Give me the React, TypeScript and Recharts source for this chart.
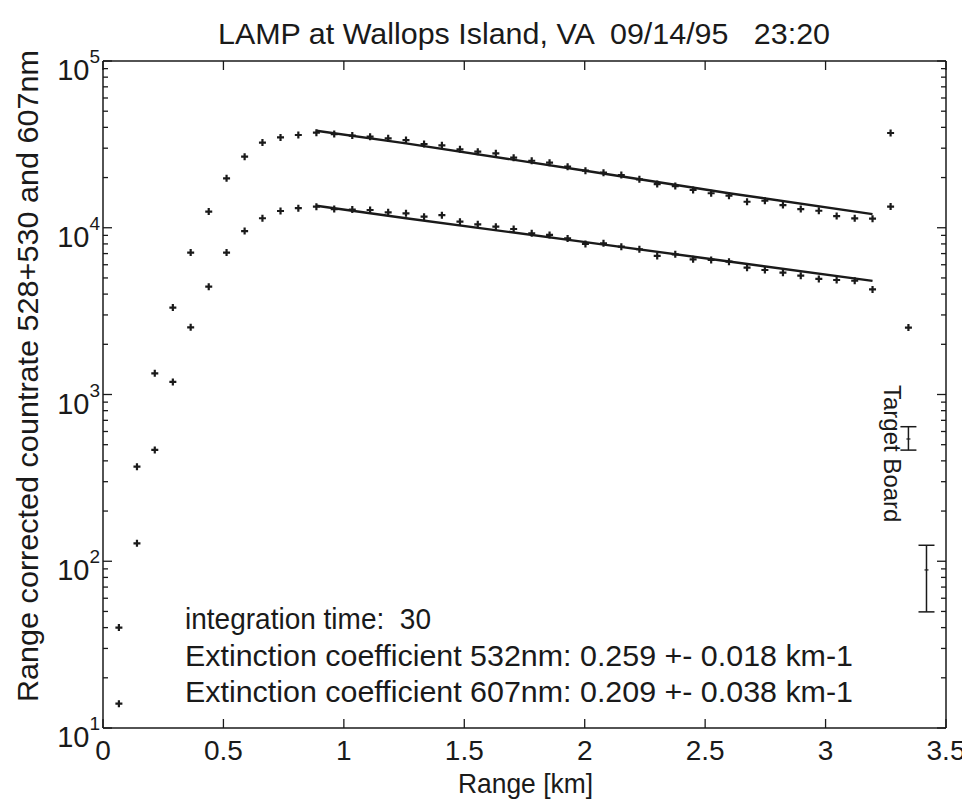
import React from 'react';
import { ComposedChart, Scatter, Line, XAxis, YAxis, ErrorBar } from 'recharts';

// range bins [km]
const rangeKm = [
  0.066, 0.141, 0.215, 0.29, 0.364, 0.439, 0.513, 0.588, 0.662, 0.737, 0.811, 0.886,
  0.96, 1.035, 1.109, 1.184, 1.258, 1.333, 1.407, 1.482, 1.556, 1.631, 1.705, 1.78,
  1.854, 1.929, 2.003, 2.078, 2.152, 2.227, 2.301, 2.376, 2.45, 2.525, 2.599, 2.674,
  2.748, 2.823, 2.897, 2.972, 3.046, 3.121, 3.195, 3.27, 3.344,
];

// 528+530 nm countrate
const counts528 = [
  40, 369, 1340, 3320, 7100, 12500, 19800, 26700, 32400, 34800, 36000, 37150,
  36480, 35730, 35160, 34380, 33580, 31780, 31200, 29520, 28580, 27930, 26300, 25230,
  24550, 23230, 21980, 21380, 20700, 19530, 18290, 17790, 16840, 16100, 15570, 14320,
  14520, 13680, 12940, 12650, 11750, 11390, 11330, 37000, 2520,
];

// 607 nm countrate
const counts607 = [
  14, 128, 465, 1190, 2530, 4430, 7100, 9550, 11400, 12600, 13100, 13370,
  12950, 12860, 12780, 12380, 12210, 11650, 11900, 10870, 10490, 10150, 9830, 9270,
  9060, 8630, 8000, 8070, 7700, 7430, 6780, 6930, 6470, 6410, 6260, 5760,
  5580, 5380, 5160, 4930, 4860, 4810, 4270, 13400,
];

// extinction fits
const fitRange = [0.886, 1.258, 2.003, 2.599, 3.195];
const fit528 = [38200, 32080, 21980, 16100, 12080];
const fit607 = [13560, 11400, 8200, 6280, 4800];

// target board returns with error bars
const boardRange = [3.344, 3.419];
const boardCounts = [541, 88.7];
const boardErrLow = [77, 39];
const boardErrHigh = [100, 36];

const xTicks = [0, 0.5, 1, 1.5, 2, 2.5, 3, 3.5];
const decades = [10, 100, 1000, 10000];
const minorSteps = [1, 2, 3, 4, 5, 6, 7, 8, 9];
const yTicks = decades.flatMap((d) => minorSteps.map((m) => m * d)).concat(100000);

const ink = '#1a1a1a';
const font = '"Liberation Sans", Arial, sans-serif';

const pts528 = counts528.map((v, i) => ({ range: rangeKm[i], count: v }));
const pts607 = counts607.map((v, i) => ({ range: rangeKm[i], count: v }));
const fitPts528 = fit528.map((v, i) => ({ range: fitRange[i], count: v }));
const fitPts607 = fit607.map((v, i) => ({ range: fitRange[i], count: v }));
const boardPts = boardCounts.map((v, i) => ({
  range: boardRange[i],
  count: v,
  err: [boardErrLow[i], boardErrHigh[i]],
}));

const isMajor = (v: number) => {
  const e = Math.round(Math.log10(v));
  return Math.abs(Math.pow(10, e) - v) < 1e-6;
};

const LeftTick = (props: any) => {
  const { x, y, payload } = props;
  const v = payload.value;
  const major = isMajor(v);
  return (
    <g>
      <line x1={x} y1={y} x2={x + (major ? 9 : 5)} y2={y} stroke={ink} strokeWidth={1.3} />
      {major && (
        <text x={x - 3} y={y + 19} textAnchor="end" fontSize={29} fontFamily={font} fill={ink}>
          10
          <tspan dy={-17} fontSize={19}>
            {Math.round(Math.log10(v))}
          </tspan>
        </text>
      )}
    </g>
  );
};

const RightTick = (props: any) => {
  const { x, y, payload } = props;
  const major = isMajor(payload.value);
  return <line x1={x} y1={y} x2={x - (major ? 9 : 5)} y2={y} stroke={ink} strokeWidth={1.3} />;
};

const BottomTick = (props: any) => {
  const { x, y, payload } = props;
  return (
    <g>
      <line x1={x} y1={y} x2={x} y2={y - 9} stroke={ink} strokeWidth={1.3} />
      <text x={x} y={y + 32} textAnchor="middle" fontSize={28} fontFamily={font} fill={ink}>
        {payload.value}
      </text>
    </g>
  );
};

const TopTick = (props: any) => {
  const { x, y } = props;
  return <line x1={x} y1={y} x2={x} y2={y + 9} stroke={ink} strokeWidth={1.3} />;
};

const Plus = (props: any) => {
  const { cx, cy } = props;
  if (cx == null || cy == null) return null;
  return (
    <path
      d={`M${cx - 3.5},${cy}H${cx + 3.5}M${cx},${cy - 3.5}V${cy + 3.5}`}
      stroke={ink}
      strokeWidth={2.2}
    />
  );
};

const Tick = (props: any) => {
  const { cx, cy } = props;
  if (cx == null || cy == null) return null;
  return <path d={`M${cx - 2},${cy}H${cx + 2}`} stroke={ink} strokeWidth={1.2} />;
};

export default function App() {
  const W = 962;
  const H = 792;
  return (
    <div style={{ position: 'relative', width: W, height: H, background: '#fff' }}>
      <ComposedChart
        width={W}
        height={H}
        margin={{ top: 33, right: 23, bottom: 32, left: 35 }}
      >
        <XAxis
          dataKey="range"
          type="number"
          domain={[0, 3.5]}
          ticks={xTicks}
          allowDataOverflow
          height={40}
          tickSize={0}
          tickMargin={0}
          tick={<BottomTick />}
          axisLine={{ stroke: ink, strokeWidth: 1.5 }}
          tickLine={false}
        />
        <XAxis
          xAxisId="top"
          orientation="top"
          dataKey="range"
          type="number"
          domain={[0, 3.5]}
          ticks={xTicks}
          allowDataOverflow
          height={20}
          tickSize={0}
          tickMargin={0}
          tick={<TopTick />}
          axisLine={{ stroke: ink, strokeWidth: 1.5 }}
          tickLine={false}
        />
        <YAxis
          dataKey="count"
          type="number"
          scale="log"
          domain={[10, 100000]}
          ticks={yTicks}
          allowDataOverflow
          interval={0}
          width={60}
          tickSize={0}
          tickMargin={0}
          tick={<LeftTick />}
          axisLine={{ stroke: ink, strokeWidth: 1.5 }}
          tickLine={false}
        />
        <YAxis
          yAxisId="right"
          orientation="right"
          dataKey="count"
          type="number"
          scale="log"
          domain={[10, 100000]}
          ticks={yTicks}
          allowDataOverflow
          interval={0}
          width={1}
          tickSize={0}
          tickMargin={0}
          tick={<RightTick />}
          axisLine={{ stroke: ink, strokeWidth: 1.5 }}
          tickLine={false}
        />
        <Scatter data={pts528} dataKey="count" shape={<Plus />} isAnimationActive={false} />
        <Scatter data={pts607} dataKey="count" shape={<Plus />} isAnimationActive={false} />
        <Scatter data={boardPts} dataKey="count" shape={<Tick />} isAnimationActive={false}>
          <ErrorBar dataKey="err" direction="y" width={8} stroke={ink} strokeWidth={1.5} isAnimationActive={false} />
        </Scatter>
        <Line
          data={fitPts528}
          dataKey="count"
          type="linear"
          stroke={ink}
          strokeWidth={2.4}
          dot={false}
          isAnimationActive={false}
        />
        <Line
          data={fitPts607}
          dataKey="count"
          type="linear"
          stroke={ink}
          strokeWidth={2.4}
          dot={false}
          isAnimationActive={false}
        />
      </ComposedChart>
      <svg
        width={W}
        height={H}
        style={{ position: 'absolute', left: 0, top: 0, pointerEvents: 'none' }}
        fontFamily={font}
        fill={ink}
      >
        <text
          x={210}
          y={36}
          fontSize={29}
          textLength={612}
          lengthAdjust="spacingAndGlyphs"
          style={{ whiteSpace: 'pre' }}
        >
          {'LAMP at Wallops Island, VA  09/14/95   23:20'}
        </text>
        <text x={450} y={785} fontSize={28} textLength={135} lengthAdjust="spacingAndGlyphs">
          Range [km]
        </text>
        <text
          transform="translate(30, 694) rotate(-90)"
          fontSize={30}
          textLength={652}
          lengthAdjust="spacingAndGlyphs"
        >
          Range corrected countrate 528+530 and 607nm
        </text>
        <text
          x={177}
          y={621}
          fontSize={30}
          textLength={246}
          lengthAdjust="spacingAndGlyphs"
          style={{ whiteSpace: 'pre' }}
        >
          {'integration time:  30'}
        </text>
        <text x={177} y={658} fontSize={30} textLength={668} lengthAdjust="spacingAndGlyphs">
          Extinction coefficient 532nm: 0.259 +- 0.018 km-1
        </text>
        <text x={177} y={694} fontSize={30} textLength={668} lengthAdjust="spacingAndGlyphs">
          Extinction coefficient 607nm: 0.209 +- 0.038 km-1
        </text>
        <text transform="translate(876, 377) rotate(90)" fontSize={24}>
          Target Board
        </text>
      </svg>
    </div>
  );
}
